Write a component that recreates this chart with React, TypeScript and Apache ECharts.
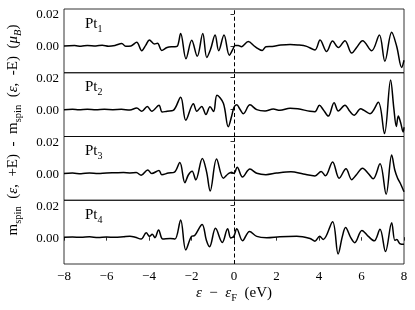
import React, { useEffect, useRef } from 'react';
import * as echarts from 'echarts';

const xTickStep = 2;
const xMin = -8;
const xMax = 8;
const yTickValues = [0, 0.02];
const yMin = -0.0168;
const yMax = 0.0231;
const panelNames = ['1', '2', '3', '4'];

const pt1: number[][] = [
  [-8, 0], [-7.5, 0.0002], [-7.2, -0.0002], [-6.9, 0.0003], [-6.5, 0], [-6.2, 0.0004], [-5.9, -0.0002],
  [-5.6, 0.0003], [-5.28, 0.0015], [-5.1, -0.0002], [-4.85, 0], [-4.58, 0.0023], [-4.34, -0.003],
  [-4.15, 0.0005], [-3.98, 0.0037], [-3.75, 0.0012], [-3.6, 0.0016], [-3.4, -0.0028], [-3.15, -0.001],
  [-2.85, -0.0005], [-2.68, -0.0003], [-2.51, 0.0078], [-2.26, -0.008], [-1.99, 0.0035], [-1.73, -0.0065],
  [-1.47, 0.0077], [-1.28, -0.0072], [-1.1, -0.002], [-0.89, 0.0068], [-0.72, -0.003], [-0.47, 0.0068],
  [-0.22, -0.0058], [-0.05, -0.002], [0.05, 0.0003], [0.2, 0.0003], [0.35, -0.0005], [0.67, 0.0027],
  [0.99, -0.0005], [1.33, -0.0028], [1.5, -0.0005], [1.8, -0.0003], [2.2, 0.0005], [2.64, 0.0009],
  [3.0, 0.0006], [3.42, -0.0003], [3.81, -0.0025], [4.05, 0.0037], [4.36, -0.0035], [4.64, 0.003],
  [4.91, -0.001], [5.22, 0.0033], [5.54, -0.0045], [5.77, -0.001], [6.05, 0.0033], [6.48, -0.003],
  [6.84, 0.0068], [7.1, -0.0096], [7.42, 0.0086], [7.66, -0.0005], [7.89, -0.0135], [8.0, -0.009],
];

const pt2: number[][] = [
  [-8, 0], [-7.6, 0.0002], [-7.3, -0.0001], [-6.9, 0.0003], [-6.5, -0.0001], [-6.1, 0.0002], [-5.7, 0],
  [-5.3, 0.0002], [-4.9, -0.0002], [-4.58, 0.001], [-4.34, -0.001], [-4.08, 0.002], [-3.87, -0.001],
  [-3.53, 0.0027], [-3.38, -0.0015], [-3.15, -0.001], [-2.86, -0.0005], [-2.51, 0.0078], [-2.27, -0.0066],
  [-1.91, 0.0037], [-1.75, -0.001], [-1.52, 0.002], [-1.32, -0.003], [-1.13, 0.0018], [-0.96, -0.0012],
  [-0.8, 0.009], [-0.5, 0.004], [-0.27, -0.0107], [-0.1, -0.0035], [0.0, 0.0015], [0.13, 0.003],
  [0.28, 0.0003], [0.44, -0.0025], [0.75, 0.003], [1.07, 0], [1.46, -0.0008], [1.85, 0.0004],
  [2.16, -0.0004], [2.64, 0.0009], [3.0, 0.0005], [3.58, -0.001], [3.81, -0.0013], [4.02, 0.0027],
  [4.2, 0], [4.44, -0.004], [4.71, 0.0044], [4.91, -0.0008], [5.22, 0.0028], [5.46, -0.0012],
  [5.65, -0.0035], [5.96, 0.0005], [6.09, -0.0002], [6.4, -0.0025], [6.79, 0.0046], [7.08, -0.015],
  [7.37, 0.0186], [7.52, 0.001], [7.64, -0.0105], [7.73, -0.004], [7.84, -0.008], [7.96, -0.014], [8.0, -0.011],
];

const pt3: number[][] = [
  [-8, 0], [-7.6, 0.0002], [-7.2, -0.0002], [-6.8, 0.0003], [-6.4, -0.0001], [-6.0, 0.0003], [-5.6, 0.0004],
  [-5.2, 0.0005], [-4.9, 0.0003], [-4.6, 0.0005], [-4.37, -0.0012], [-4.06, 0.0022], [-3.87, -0.0001],
  [-3.53, 0.0018], [-3.4, -0.0008], [-3.09, 0.0002], [-2.8, 0.0008], [-2.55, 0.0068], [-2.31, -0.0058],
  [-2.15, -0.001], [-1.97, 0.0014], [-1.8, -0.004], [-1.49, 0.0094], [-1.29, 0.001], [-1.12, -0.011],
  [-0.82, 0.009], [-0.5, -0.003], [-0.27, -0.0002], [-0.12, 0.0008], [0, 0.0001], [0.15, 0.0039],
  [0.4, -0.0022], [0.75, 0.0027], [1.07, 0.0001], [1.5, -0.0008], [2.0, 0.0002], [2.68, 0.001],
  [3.26, -0.0004], [3.81, -0.0016], [4.1, 0.0012], [4.3, -0.0015], [4.64, 0.0072], [4.95, -0.003],
  [5.27, 0.0029], [5.54, -0.0039], [5.75, -0.001], [6.05, 0.0033], [6.32, 0], [6.55, -0.0034],
  [6.87, 0.006], [7.16, -0.013], [7.42, 0.0115], [7.57, 0.002], [7.7, -0.003], [7.82, -0.006], [8, -0.0115],
];

const pt4: number[][] = [
  [-8, 0], [-7.6, 0.0001], [-7.2, -0.0001], [-6.8, 0.0002], [-6.4, -0.0002], [-6.0, 0.0001], [-5.6, -0.0001],
  [-5.2, 0.0003], [-4.9, 0.0006], [-4.65, 0], [-4.37, -0.0012], [-4.13, 0.0027], [-3.97, 0.0005],
  [-3.85, 0.0018], [-3.72, -0.0003], [-3.55, 0.0045], [-3.35, -0.0012], [-3.0, -0.0008], [-2.78, -0.0012],
  [-2.51, 0.0108], [-2.27, -0.008], [-2.0, 0.0005], [-1.85, 0.001], [-1.5, 0.008], [-1.3, -0.002],
  [-1.15, -0.006], [-0.87, 0.0055], [-0.55, -0.0033], [-0.3, 0.0053], [-0.15, -0.0005], [0, 0.0008],
  [0.13, 0.0053], [0.4, -0.0022], [0.73, 0.0036], [1.07, 0.0005], [1.54, -0.0003], [2.16, 0.0003],
  [2.95, 0.0006], [3.58, -0.0008], [3.81, -0.0025], [4.03, 0.0005], [4.2, -0.0015], [4.64, 0.0097],
  [4.9, -0.0105], [5.1, 0.0005], [5.25, 0.006], [5.5, -0.0005], [5.68, -0.0035], [6.02, 0.0042],
  [6.32, 0.0005], [6.6, -0.0023], [6.87, 0.005], [7.13, -0.009], [7.42, 0.009], [7.57, -0.002],
  [7.66, -0.0015], [7.8, -0.004], [8, -0.0045],
];

const seriesData = [pt1, pt2, pt3, pt4];

const FONT = 'Liberation Serif';

function makeRich(size: number, subSize: number, drop: number) {
  const lh = Math.round(size * 1.15);
  return {
    n: { fontFamily: FONT, fontSize: size, lineHeight: lh, verticalAlign: 'top', fill: '#000' },
    i: { fontFamily: FONT, fontSize: size, lineHeight: lh, fontStyle: 'italic', verticalAlign: 'top', fill: '#000' },
    s: { fontFamily: FONT, fontSize: subSize, lineHeight: subSize, padding: [drop, 0, 0, 0], verticalAlign: 'top', fill: '#000' },
    si: { fontFamily: FONT, fontSize: subSize, lineHeight: subSize, padding: [drop, 0, 0, 0], fontStyle: 'italic', verticalAlign: 'top', fill: '#000' },
  };
}

export default function App() {
  const ref = useRef<HTMLDivElement>(null);
  useEffect(() => {
    const chart = echarts.init(ref.current!, null, { renderer: 'svg' });
    const left = 64;
    const width = 340;
    const top0 = 9;
    const h = 63.75;
    const grids = seriesData.map((_, i) => ({
      left, width, top: top0 + i * h, height: h,
      show: true, borderColor: '#000', borderWidth: 0.8, backgroundColor: 'transparent',
    }));
    const xAxes = seriesData.map((_, i) => ({
      type: 'value', gridIndex: i, min: xMin, max: xMax, interval: xTickStep,
      axisLine: { show: false },
      splitLine: { show: false },
      axisTick: { show: i === 3, length: 3.5, lineStyle: { color: '#000', width: 0.8 } },
      axisLabel: {
        show: i === 3, fontFamily: FONT, fontSize: 13, color: '#000', margin: 5,
        formatter: (v: number) => (v < 0 ? '\u2212' + Math.abs(v) : String(v)),
      },
    }));
    const yAxes = seriesData.map((_, i) => ({
      type: 'value', gridIndex: i, min: yMin, max: yMax,
      axisLine: { show: false },
      splitLine: { show: false },
      axisTick: { show: true, length: 3.5, customValues: yTickValues, lineStyle: { color: '#000', width: 0.8 } },
      axisLabel: {
        show: true, customValues: yTickValues, fontFamily: FONT, fontSize: 13, color: '#000', margin: 5,
        formatter: (v: number) => v.toFixed(2),
      },
    }));
    const series = seriesData.map((d, i) => ({
      type: 'line', xAxisIndex: i, yAxisIndex: i, data: d,
      symbol: 'none', showSymbol: false, smooth: 0.35,
      lineStyle: { color: '#000', width: 1.5 },
      markLine: {
        silent: true, symbol: ['none', 'none'], label: { show: false },
        lineStyle: { color: '#000', width: 1, type: [4, 2.5] },
        data: [{ xAxis: 0 }],
      },
    }));
    const richPanel = makeRich(15, 10, 8);
    const richAxis = makeRich(15, 10.5, 7);
    const graphics: any[] = panelNames.map((name, i) => ({
      type: 'text', x: 85, y: top0 + i * h + 6,
      style: { text: '{n|Pt}{s|' + name + '}', rich: richPanel, fontFamily: FONT },
    }));
    graphics.push({
      type: 'text', x: 13, y: 130, rotation: Math.PI / 2,
      style: {
        text: '{n|m}{s|spin}{n|  (}{i|ε}{n|,  +E)  -  m}{s|spin}{n|  (}{i|ε}{n|,  -E)  (}{i|μ}{si|B}{n|)}',
        rich: richAxis, align: 'center', verticalAlign: 'middle', fontFamily: FONT,
      },
    });
    graphics.push({
      type: 'text', x: 234, y: 293,
      style: {
        text: '{i|ε}{n|  −  }{i|ε}{s|F}{n|  (eV)}',
        rich: richAxis, align: 'center', verticalAlign: 'middle', fontFamily: FONT,
      },
    });
    chart.setOption({
      animation: false,
      grid: grids,
      xAxis: xAxes,
      yAxis: yAxes,
      series,
      graphic: graphics,
    } as any);
    return () => chart.dispose();
  }, []);
  return <div ref={ref} style={{ position: 'fixed', left: 0, top: 0, width: 415, height: 310 }} />;
}
